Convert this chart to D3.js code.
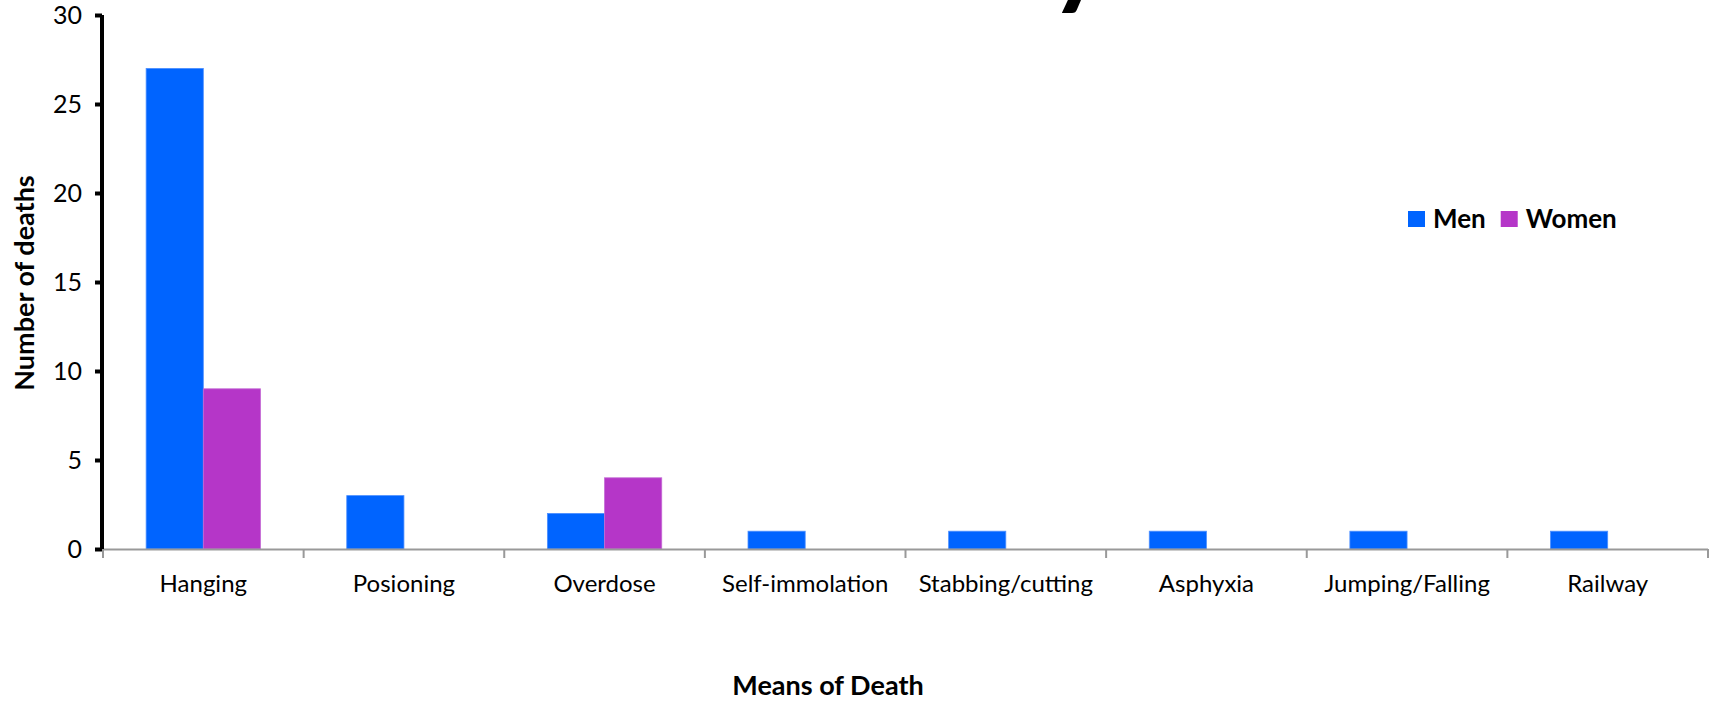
<!DOCTYPE html>
<html>
<head>
<meta charset="utf-8">
<script src="https://cdn.jsdelivr.net/npm/d3@7"></script>
<style>
  body { margin: 0; background: #fff; }
  text { font-family: Lato, "Open Sans", sans-serif; }
</style>
</head>
<body>
<div id="chart"></div>
<script>
// data
var categories = ["Hanging", "Posioning", "Overdose", "Self-immolation", "Stabbing/cutting", "Asphyxia", "Jumping/Falling", "Railway"]
var series = ["Men", "Women"]
var men = [27, 3, 2, 1, 1, 1, 1, 1]
var women = [9, 0, 4, 0, 0, 0, 0, 0]
var yTicks = [0, 5, 10, 15, 20, 25, 30]
var colors = ["#0064ff", "#b536c8"]

var W = 1719, H = 701
var mLeft = 103, mRight = 1708, mTop = 15, mBottom = 549

var svg = d3.select("#chart").append("svg")
	.attr("width", W)
	.attr("height", H)

// title is cut off above the frame, only the descender of its last letter shows
svg.append("text")
	.attr("x", 1108)
	.attr("y", -6)
	.attr("text-anchor", "end")
	.style("font-size", "112px")
	.style("font-weight", "bold")
	.text("Means of Suicide by")

var x0 = d3.scaleBand()
	.domain(categories)
	.range([mLeft, mRight])
	.paddingInner(0.43)
	.paddingOuter(0.215)

var x1 = d3.scaleBand()
	.domain(series)
	.range([0, x0.bandwidth()])

var y = d3.scaleLinear()
	.domain([0, 30])
	.range([mBottom, mTop])

var rows = categories.map(function (c, i) {
	return { cat: c, values: [men[i], women[i]] }
})

// bars
var g = svg.append("g")
g.selectAll("g.cat")
	.data(rows)
	.enter().append("g")
	.attr("class", "cat")
	.attr("transform", function (d) { return "translate(" + x0(d.cat) + ",0)" })
	.selectAll("rect")
	.data(function (d) {
		return d.values.map(function (v, j) { return { s: series[j], v: v, j: j } }).filter(function (d) { return d.v > 0 })
	})
	.enter().append("rect")
	.attr("x", function (d) { return x1(d.s) })
	.attr("width", x1.bandwidth())
	.attr("y", function (d) { return y(d.v) })
	.attr("height", function (d) { return y(0) - y(d.v) })
	.style("fill", function (d) { return colors[d.j] })
	.style("stroke", function (d) { return d.j == 0 ? "#4d8fff" : "#c46ad4" })
	.style("stroke-width", 0.8)

// x axis, grey with ticks at category boundaries
var step = x0.step()
var xg = svg.append("g")
xg.append("line")
	.attr("x1", mLeft).attr("x2", mRight)
	.attr("y1", mBottom + 0.5).attr("y2", mBottom + 0.5)
	.style("stroke", "#999").style("stroke-width", 2)
xg.selectAll("line.tick")
	.data(d3.range(categories.length + 1))
	.enter().append("line")
	.attr("class", "tick")
	.attr("x1", function (i) { return mLeft + i * step })
	.attr("x2", function (i) { return mLeft + i * step })
	.attr("y1", mBottom).attr("y2", mBottom + 9)
	.style("stroke", "#999").style("stroke-width", 2)
xg.selectAll("text")
	.data(categories)
	.enter().append("text")
	.attr("x", function (d) { return x0(d) + x0.bandwidth() / 2 })
	.attr("y", 592)
	.attr("text-anchor", "middle")
	.style("font-size", "24px")
	.text(function (d) { return d })

// y axis, black
var yAxis = d3.axisLeft(y)
	.tickValues(yTicks)
	.tickSize(7)
	.tickPadding(13)
	.tickFormat(d3.format("d"))
var yg = svg.append("g")
	.attr("transform", "translate(" + (mLeft - 1) + ",0)")
	.call(yAxis)
yg.select(".domain").attr("d", "M0," + mTop + "V" + mBottom).style("stroke", "#000").style("stroke-width", 4)
yg.selectAll(".tick line").style("stroke", "#000").style("stroke-width", 4)
yg.selectAll(".tick text")
	.style("font-size", "25px")
	.style("font-family", "Lato, 'Open Sans', sans-serif")
	.attr("fill", "#000")

// axis titles
svg.append("text")
	.attr("transform", "translate(34,283) rotate(-90)")
	.attr("text-anchor", "middle")
	.style("font-size", "27px")
	.style("font-weight", "bold")
	.text("Number of deaths")

svg.append("text")
	.attr("x", 828)
	.attr("y", 695)
	.attr("text-anchor", "middle")
	.style("font-size", "27px")
	.style("font-weight", "bold")
	.text("Means of Death")

// legend
var legend = svg.append("g").attr("transform", "translate(1408,211)")
var lx = 0
series.forEach(function (s, i) {
	var item = legend.append("g").attr("transform", "translate(" + lx + ",0)")
	item.append("rect")
		.attr("width", 17).attr("height", 16)
		.style("fill", colors[i])
	var t = item.append("text")
		.attr("x", 25).attr("y", 17)
		.style("font-size", "26px")
		.style("font-weight", "bold")
		.text(s)
	lx += 25 + t.node().getComputedTextLength() + 15
})
</script>
</body>
</html>
